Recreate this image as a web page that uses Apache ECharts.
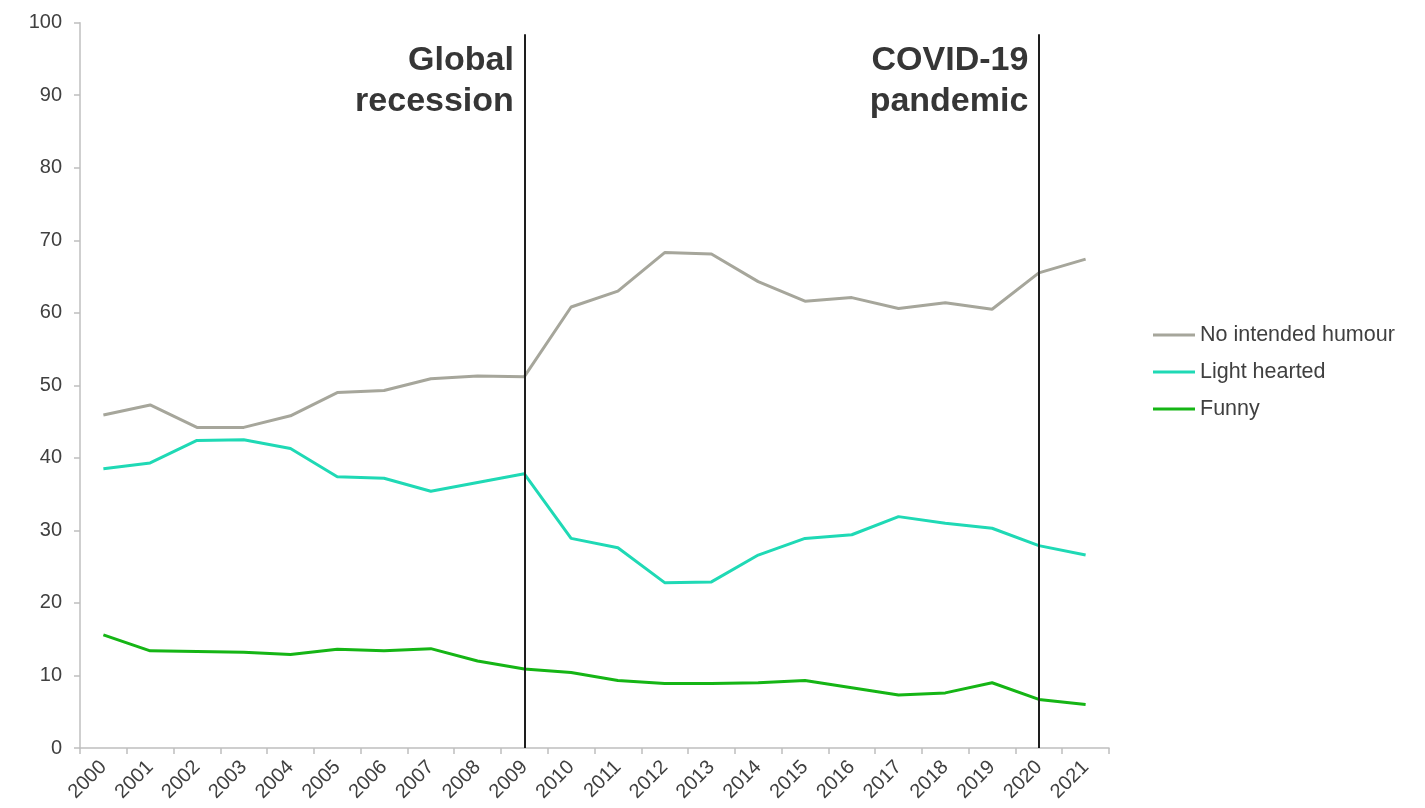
<!DOCTYPE html>
<html>
<head>
<meta charset="utf-8">
<script src="https://cdn.jsdelivr.net/npm/echarts@6/dist/echarts.min.js"></script>
<style>
html,body{margin:0;padding:0;background:#fff;}
#chart{width:1425px;height:808px;}
</style>
</head>
<body>
<div id="chart"></div>
<script>
const years = ['2000','2001','2002','2003','2004','2005','2006','2007','2008','2009','2010','2011','2012','2013','2014','2015','2016','2017','2018','2019','2020','2021'];
const noHumour = [45.9,47.3,44.2,44.2,45.8,49.0,49.3,50.9,51.3,51.2,60.8,63.0,68.3,68.1,64.3,61.6,62.1,60.6,61.4,60.5,65.5,67.4];
const lightHearted = [38.5,39.3,42.4,42.5,41.3,37.4,37.2,35.4,36.6,37.8,28.9,27.6,22.8,22.9,26.6,28.9,29.4,31.9,31.0,30.3,27.9,26.6];
const funny = [15.6,13.4,13.3,13.2,12.9,13.6,13.4,13.7,12.0,10.9,10.4,9.3,8.9,8.9,9.0,9.3,8.3,7.3,7.6,9.0,6.7,6.0];
const seriesNames = ['No intended humour','Light hearted','Funny'];
const eventYears = ['2009','2020'];
const eventLabels = ['Global\nrecession','COVID-19\npandemic'];
const eventLineTop = 98.4;

const font = 'Liberation Sans, Arial, sans-serif';
const chart = echarts.init(document.getElementById('chart'));

const markLines = eventYears.map(y => [{coord:[y,0]},{coord:[y,eventLineTop]}]);
const markPoints = eventYears.map((y,i) => ({coord:[y,eventLineTop], name:eventLabels[i]}));

chart.setOption({
  animation:false,
  backgroundColor:'#fff',
  textStyle:{fontFamily:font},
  grid:{left:80,right:316,top:22.7,bottom:60},
  legend:{
    orient:'vertical',
    left:1148, top:318,
    icon:'rect', itemWidth:42, itemHeight:3, itemGap:13,
    textStyle:{fontSize:21.5,color:'#404040',fontFamily:font,lineHeight:24},
    data:seriesNames
  },
  xAxis:{
    type:'category', data:years, boundaryGap:true,
    axisLine:{lineStyle:{color:'#bfbfbf',width:1.5}},
    axisTick:{show:true,length:6,lineStyle:{color:'#bfbfbf',width:1.5}},
    axisLabel:{rotate:45,fontSize:20,color:'#404040',margin:16,fontFamily:font,interval:0},
    splitLine:{show:false}
  },
  yAxis:{
    type:'value', min:0, max:100, interval:10,
    axisLine:{show:true,lineStyle:{color:'#bfbfbf',width:1.5}},
    axisTick:{show:true,length:6,lineStyle:{color:'#bfbfbf',width:1.5}},
    axisLabel:{fontSize:20,color:'#404040',margin:18,fontFamily:font},
    splitLine:{show:false}
  },
  series:[
    {
      name:seriesNames[0], type:'line', data:noHumour, symbol:'none',
      lineStyle:{color:'#a6a69b',width:3}, itemStyle:{color:'#a6a69b'},
      markLine:{
        silent:true, symbol:'none', label:{show:false},
        lineStyle:{color:'#1e1e1e',width:2,type:'solid'},
        data:markLines
      },
      markPoint:{
        silent:true, symbol:'circle', symbolSize:1,
        itemStyle:{color:'rgba(0,0,0,0)'},
        label:{
          show:true, formatter:p=>p.name, position:'left', distance:10,
          align:'right', verticalAlign:'top',
          fontSize:34, fontWeight:'bold', lineHeight:41, color:'#363636', fontFamily:font,
          offset:[0,6]
        },
        data:markPoints
      },
      z:3
    },
    {
      name:seriesNames[1], type:'line', data:lightHearted, symbol:'none',
      lineStyle:{color:'#1fd9b5',width:3}, itemStyle:{color:'#1fd9b5'}, z:3
    },
    {
      name:seriesNames[2], type:'line', data:funny, symbol:'none',
      lineStyle:{color:'#15b515',width:3}, itemStyle:{color:'#15b515'}, z:3
    }
  ]
});
</script>
</body>
</html>
